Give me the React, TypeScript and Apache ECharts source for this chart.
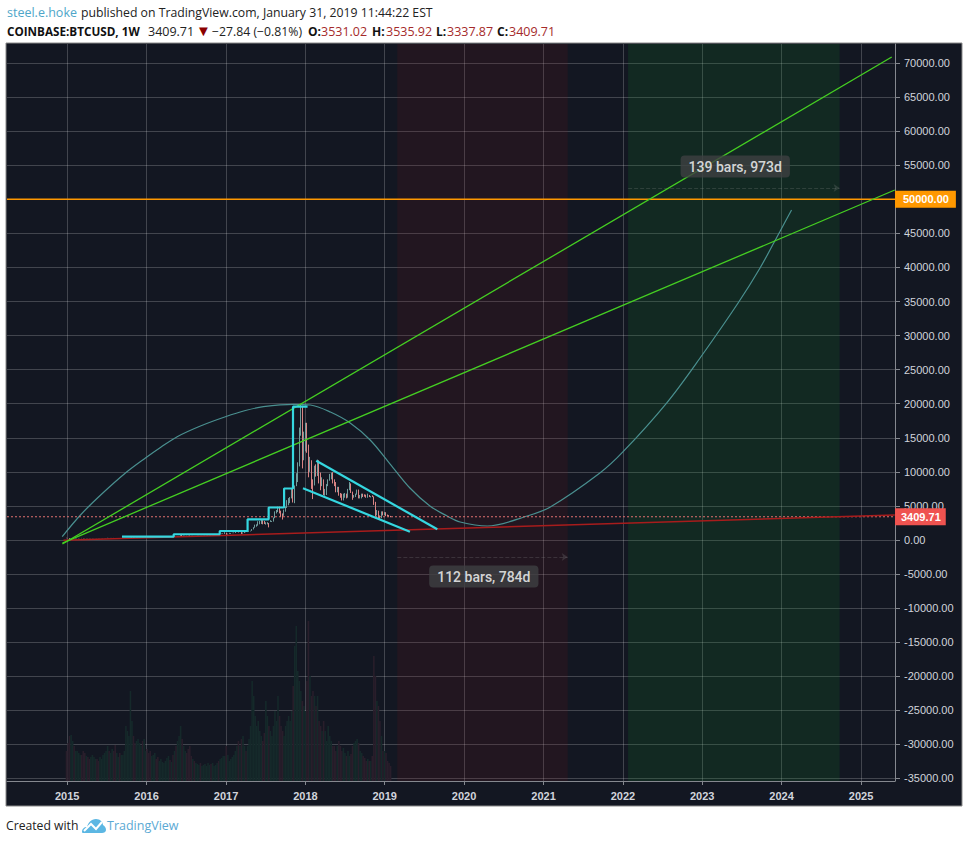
import React, { useEffect, useRef } from 'react';
import * as echarts from 'echarts';

const UI_FONT = '"Open Sans", sans-serif';
const AXIS_FONT = '"Liberation Sans", sans-serif';

// weekly bars, the first one opens on the week of 2014-12-29
const FIRST_WEEK = Date.UTC(2014, 11, 29);
const WEEK = 7 * 24 * 3600 * 1000;
const FIRST_OPEN = 320;
const X_MIN = Date.UTC(2014, 2, 30);
const X_MAX = Date.UTC(2025, 5, 6);

const closes = [
  280,265,210,225,235,225,235,255,275,285,280,255,245,250,240,225,225,235,240,240,235,225,225,230,245,245,255,290,275,290,295,280,225,230,235,230,230,240,245,250,265,285,330,380,330,325,370,395,420,445,430,430,
  450,385,380,375,375,405,440,415,410,415,415,415,415,420,420,460,450,460,445,455,445,530,580,680,640,650,670,660,650,580,570,590,570,570,610,610,600,610,615,640,655,700,730,700,740,750,770,790,780,890,920,970,
  1000,820,920,1010,1015,1030,1060,1190,1260,1230,1240,960,1050,1190,1180,1200,1280,1350,1560,1800,2050,2200,2400,2530,2700,2560,2500,2500,2600,2280,2800,2800,3300,4100,4350,4580,4300,3700,3600,4400,4800,5700,5900,6100,7400,5900,8000,9300,11200,15300,19000,13800,
  14000,16200,13700,11600,11700,8200,8100,10400,9700,11500,9500,8200,8500,6900,7000,8000,8800,9300,9600,8700,8500,7300,7700,6800,6500,6100,6400,6700,6300,7400,8200,7000,6300,6500,6700,7300,6200,6500,6700,6600,6550,6300,6500,6400,6400,6350,5600,3900,4100,3500,3200,4000,3850,
  3950,3650,3600,3531.02,3409.71,
];
const highs = [
  320,300,285,255,265,245,265,270,300,300,300,290,265,265,260,240,240,245,245,245,245,240,240,235,250,255,265,315,295,300,300,300,270,240,240,240,235,245,250,255,270,290,340,500,395,345,380,420,465,470,465,440,
  470,460,400,410,385,410,450,450,430,425,420,420,420,425,425,470,470,470,460,460,460,535,590,700,780,690,680,680,670,660,600,610,585,580,610,625,610,620,620,645,660,710,740,745,755,760,790,800,795,900,940,1000,
  1150,1030,930,1050,1030,1060,1100,1210,1300,1330,1290,1260,1100,1220,1210,1230,1290,1360,1600,1880,2250,2300,2750,2800,3000,2900,2800,2600,2620,2500,2900,2800,3300,4200,4400,4900,4900,4300,3900,4450,4900,5850,6150,6300,7500,7700,8000,9800,11400,16500,19890,19700,
  15900,17200,17200,14000,12200,11700,8900,10900,11100,11800,11700,9900,9200,8900,7500,8200,8900,9700,9900,9950,8900,8500,7800,7800,6900,6800,6800,6900,6800,7500,8500,8300,7100,6600,6800,7400,7400,6600,6800,6800,6700,6650,6800,6600,6450,6550,6400,5600,4400,4300,3600,4200,4200,
  4100,4080,3730,3650,3535.92,
];
const lows = [
  260,255,170,205,215,215,220,230,250,270,265,250,235,235,235,215,215,220,230,235,230,220,220,220,225,240,240,255,265,270,280,275,195,215,225,225,225,225,235,240,245,260,280,320,310,305,320,360,395,420,410,420,
  420,375,355,370,365,370,400,405,405,405,410,410,410,415,415,420,445,445,440,445,440,445,520,580,590,630,640,650,640,480,540,565,565,560,565,600,595,600,605,610,630,650,680,680,700,730,740,760,750,770,860,900,
  880,750,800,900,900,1000,1000,1030,1180,1100,1170,880,930,1020,1140,1160,1170,1260,1340,1550,1800,1950,2100,2300,2350,2300,2350,2250,2300,1850,2650,2650,2700,3200,3900,4100,3900,3400,3000,3550,4150,4700,5100,5400,6100,5500,5400,7900,8500,10800,15300,10500,
  11700,13000,12800,9200,10000,7500,6000,8000,9300,9400,8300,7300,7900,6600,6500,6600,7900,8700,8900,8300,7900,7000,7000,6500,6200,5800,5800,6200,6100,6200,7300,6900,5900,6200,6300,6650,6100,6100,6100,6300,6350,6200,6200,6300,6250,6300,5150,3500,3600,3200,3100,3200,3600,
  3650,3500,3500,3400,3337.87,
];
const volumes = [
  60,76,90,92,80,70,60,60,56,52,52,60,56,50,48,44,48,52,48,44,44,40,48,44,52,56,60,70,60,56,64,60,72,56,48,56,52,52,60,110,100,90,180,120,90,76,80,84,76,70,80,84,
  60,64,56,60,50,52,56,44,48,40,44,38,36,40,46,50,42,38,52,60,70,80,90,110,84,70,60,56,64,70,50,44,40,36,34,32,36,30,32,34,30,36,32,34,36,30,32,36,40,44,46,50,
  50,70,52,40,44,48,52,60,70,80,70,84,90,70,60,70,84,110,200,170,130,110,120,100,90,80,96,160,130,110,100,90,110,140,120,170,130,110,100,90,110,120,130,120,140,190,270,310,220,200,180,160,
  150,140,200,320,210,170,180,170,150,170,120,110,100,120,100,80,110,90,80,70,70,60,70,80,70,60,66,56,50,60,50,54,70,76,80,84,76,60,56,50,46,40,44,40,40,50,250,210,160,150,120,90,60,
  60,56,40,36,30,
];

const yearTicks = ['2015-01-01','2016-01-01','2017-01-01','2018-01-01','2019-01-01','2020-01-01','2021-01-01','2022-01-01','2023-01-01','2024-01-01','2025-01-01'];
const priceTicks = [70000,65000,60000,55000,50000,45000,40000,35000,30000,25000,20000,15000,10000,5000,0,-5000,-10000,-15000,-20000,-25000,-30000,-35000];

// freehand curve
const curvePoints = [
  ['2014-12-09',484],['2015-03-03',3670],['2015-06-04',6600],['2015-09-26',9830],['2015-12-27',12030],['2016-03-05',13570],['2016-05-21',15160],
  ['2016-09-05',16730],['2016-12-29',18090],['2017-03-31',19000],['2017-06-22',19560],['2017-11-06',19910],['2018-01-24',19810],['2018-04-26',18780],['2018-07-26',17170],
  ['2018-10-26',14680],['2019-01-26',11150],['2019-04-27',7630],['2019-07-28',4990],['2019-10-15',3520],['2019-12-14',2640],
  ['2020-04-17',2050],['2020-10-18',3520],['2021-02-01',4840],['2021-09-17',9830],['2022-01-02',12960],['2022-07-21',20100],
  ['2022-12-22',26710],['2023-06-15',34780],['2023-09-24',39920],['2023-12-24',45240],['2024-02-16',48430],
];
const stepPoints = [
  ['2015-09-10',480],['2016-05-05',480],['2016-05-05',840],['2016-12-03',840],['2016-12-03',1320],['2017-04-10',1320],
  ['2017-04-10',3040],['2017-07-16',3040],['2017-07-16',4770],['2017-09-25',4770],['2017-09-25',7560],['2017-11-05',7560],
  ['2017-11-05',19560],['2018-01-11',19560],
];
const upperFan = [['2014-12-10',-590],['2025-05-22',70880]];
const lowerFan = [['2014-12-10',-450],['2025-06-05',51360]];
const redTrend = [['2014-12-15',-50],['2025-06-05',3670]];
const wedgeTop = [['2018-02-20',11640],['2019-08-31',1570]];
const wedgeBottom = [['2017-12-21',7590],['2019-04-27',1220]];

const redRange = ['2019-02-28','2021-04-22'];
const greenRange = ['2022-01-25','2024-09-24'];
const rangeLabels = [
  { at: ['2023-06-02',54800], text: '139 bars, 973d' },
  { at: ['2020-04-01',-5360], text: '112 bars, 784d' },
];

const LAST_PRICE = 3409.71;
const TARGET_PRICE = 50000;

echarts.graphic.registerShape('tvCloud', echarts.graphic.extendPath(
  'M0 14C0 11 2 9 5 9C6 5 9 1 14 1C18 1 21 4 21 7C23 8 24 10 24 12C24 14 22 15 20 15L2 15C1 15 0 15 0 14Z',
  {},
));

const day = (d: string) => Date.parse(d);
const points = (list: any[]) => list.map(([d, v]) => [day(d), v]);

function lineSeries(data: any[], color: string, width: number, z: number) {
  return {
    type: 'line', data: points(data), symbol: 'none', z, silent: true,
    lineStyle: { color, width },
  };
}

// horizontal level with its price box sitting on the axis
function priceLine(value: number, color: string, lineType: any, width: number, boxColor: string, padding: number[]) {
  return {
    type: 'line', z: 5, silent: true, symbol: 'none',
    data: [[X_MIN, value], [X_MAX, value]],
    lineStyle: { color, type: lineType, width },
    endLabel: {
      show: true, distance: 0, formatter: value.toFixed(2),
      backgroundColor: boxColor, color: '#ffffff', padding,
      fontFamily: AXIS_FONT, fontSize: 11, fontWeight: 'bold',
    },
  };
}

function headerText(text: string, x: number, y: number, fill: string, fontWeight = 'normal', fontSize = 12) {
  return {
    type: 'text', x, y, silent: true,
    style: { text, fill, fontWeight, fontSize, fontFamily: UI_FONT, verticalAlign: 'middle' },
  };
}

const App: React.FC = () => {
  const chartRef = useRef<HTMLDivElement>(null);

  useEffect(() => {
    const chart = echarts.init(chartRef.current!, null, { renderer: 'svg' });

    const times = closes.map((_, i) => FIRST_WEEK + i * WEEK);
    const opens = closes.map((_, i) => (i === 0 ? FIRST_OPEN : closes[i - 1]));
    const xTicks = yearTicks.map(day);

    const option = {
      animation: false,
      backgroundColor: '#ffffff',
      grid: { left: 7, right: 74, top: 44, bottom: 62 },
      xAxis: {
        type: 'value',
        position: 'bottom',
        min: X_MIN,
        max: X_MAX,
        axisLine: { show: true, onZero: false, lineStyle: { color: '#85888f' } },
        axisTick: { show: true, length: 4, lineStyle: { color: '#85888f' }, customValues: xTicks },
        axisLabel: {
          customValues: xTicks,
          formatter: (v: number) => String(new Date(v).getUTCFullYear()),
          color: '#d1d4dc', fontFamily: AXIS_FONT, fontSize: 11, fontWeight: 'bold', margin: 9,
        },
        splitLine: { show: true, lineStyle: { color: 'rgba(255,255,255,0.2)', width: 1 } },
      },
      yAxis: [
        {
          type: 'value',
          position: 'right',
          min: -35370,
          max: 72790,
          axisLine: { show: true, lineStyle: { color: '#85888f' } },
          axisTick: { show: true, length: 5, lineStyle: { color: '#85888f' }, customValues: priceTicks },
          axisLabel: {
            customValues: priceTicks,
            formatter: (v: number) => v.toFixed(2),
            color: '#d1d4dc', fontFamily: AXIS_FONT, fontSize: 11, margin: 9,
          },
          splitLine: { show: true, lineStyle: { color: 'rgba(255,255,255,0.2)', width: 1 } },
        },
        { type: 'value', min: 0, max: 1474, show: false, splitLine: { show: false } },
      ],
      graphic: [
        {
          type: 'rect', z: -10, silent: true,
          shape: { x: 6, y: 43, width: 956, height: 763 },
          style: { fill: '#131722', stroke: '#8a8a8a', lineWidth: 1 },
        },
        headerText('steel.e.hoke', 7, 12, '#4ea6c9', 'normal', 12.5),
        headerText('published on TradingView.com, January 31, 2019 11:44:22 EST', 81, 12, '#222222', 'normal', 12.25),
        headerText('COINBASE:BTCUSD, 1W', 7, 31, '#111111', 'bold', 11.7),
        headerText('3409.71', 148, 31, '#222222', 'normal', 12.5),
        headerText('▼', 196, 30, '#8b0000', 'normal', 15),
        headerText('−27.84 (−0.81%)', 212, 31, '#222222', 'normal', 12.25),
        headerText('O:', 308, 31, '#111111', 'bold'),
        headerText('3531.02', 321, 31, '#a52a2a', 'normal', 12.5),
        headerText('H:', 372, 31, '#111111', 'bold'),
        headerText('3535.92', 386, 31, '#a52a2a', 'normal', 12.5),
        headerText('L:', 436, 31, '#111111', 'bold'),
        headerText('3337.87', 447, 31, '#a52a2a', 'normal', 12.5),
        headerText('C:', 497, 31, '#111111', 'bold'),
        headerText('3409.71', 509, 31, '#a52a2a', 'normal', 12.5),
        headerText('Created with', 6, 825, '#222222', 'normal', 12.2),
        { type: 'tvCloud', x: 82, y: 818, silent: true, style: { fill: '#5cb7e3' } },
        {
          type: 'polyline', silent: true,
          shape: { points: [[84, 831], [91, 824], [96, 829], [102, 822]] },
          style: { stroke: '#ffffff', lineWidth: 2, fill: 'none' },
        },
        headerText('TradingView', 107, 825, '#5aa9d4', 'normal', 12.5),
      ],
      series: [
        {
          type: 'line', data: [], z: 1, silent: true,
          markArea: {
            silent: true,
            data: [
              [{ xAxis: day(redRange[0]), itemStyle: { color: 'rgba(120,20,30,0.15)' } }, { xAxis: day(redRange[1]) }],
              [{ xAxis: day(greenRange[0]), itemStyle: { color: 'rgba(15,120,35,0.19)' } }, { xAxis: day(greenRange[1]) }],
            ],
          },
          markLine: {
            silent: true,
            symbol: ['none', 'arrow'],
            symbolSize: 6,
            lineStyle: { color: 'rgba(150,150,150,0.22)', type: 'dashed', width: 1 },
            label: { show: false },
            data: [
              [{ coord: [day(greenRange[0]), 51660] }, { coord: [day(greenRange[1]), 51660] }],
              [{ coord: [day(redRange[0]), -2490] }, { coord: [day(redRange[1]), -2490] }],
            ],
          },
        },
        {
          type: 'bar', yAxisIndex: 1, barWidth: 1.6, z: 2, silent: true,
          data: volumes.map((v, i) => ({
            value: [times[i], v],
            itemStyle: { color: closes[i] >= opens[i] ? '#15292a' : '#291e2b' },
          })),
        },
        {
          type: 'candlestick', barWidth: 1, z: 3, silent: true,
          data: closes.map((c, i) => [times[i], opens[i], c, lows[i], highs[i]]),
          itemStyle: { color: '#6f9c9c', color0: '#d98484', borderColor: '#6f9c9c', borderColor0: '#d98484', borderWidth: 1 },
        },
        {
          ...lineSeries(curvePoints, '#4a9090', 1.2, 4),
          smooth: 0.33,
        },
        priceLine(LAST_PRICE, '#e0706f', [2, 2], 1, '#ef5350', [3, 5, 3, 6]),
        priceLine(TARGET_PRICE, '#ff9800', 'solid', 1.4, '#ff9800', [3, 7, 3, 8]),
        lineSeries(redTrend, '#a81c1c', 1.5, 6),
        lineSeries(upperFan, '#45cf22', 1.3, 7),
        lineSeries(lowerFan, '#45cf22', 1.3, 7),
        lineSeries(stepPoints, '#35d7e0', 2.2, 8),
        lineSeries(wedgeTop, '#35d7e0', 2.2, 8),
        lineSeries(wedgeBottom, '#35d7e0', 2.2, 8),
        {
          type: 'scatter', symbolSize: 1, z: 9, silent: true,
          itemStyle: { color: 'transparent' },
          data: rangeLabels.map(r => ({ value: [day(r.at[0] as string), r.at[1]], name: r.text })),
          label: {
            show: true, position: 'inside', formatter: '{b}',
            backgroundColor: '#3f4042', borderRadius: 4, padding: [4, 8],
            color: '#ffffff', fontFamily: 'Roboto, sans-serif', fontWeight: 500, fontSize: 14,
          },
        },
      ],
    };

    chart.setOption(option as any);

    return () => {
      chart.dispose();
    };
  }, []);

  return <div ref={chartRef} style={{ position: 'absolute', left: 0, top: 0, width: 969, height: 843 }} />;
};

export default App;
